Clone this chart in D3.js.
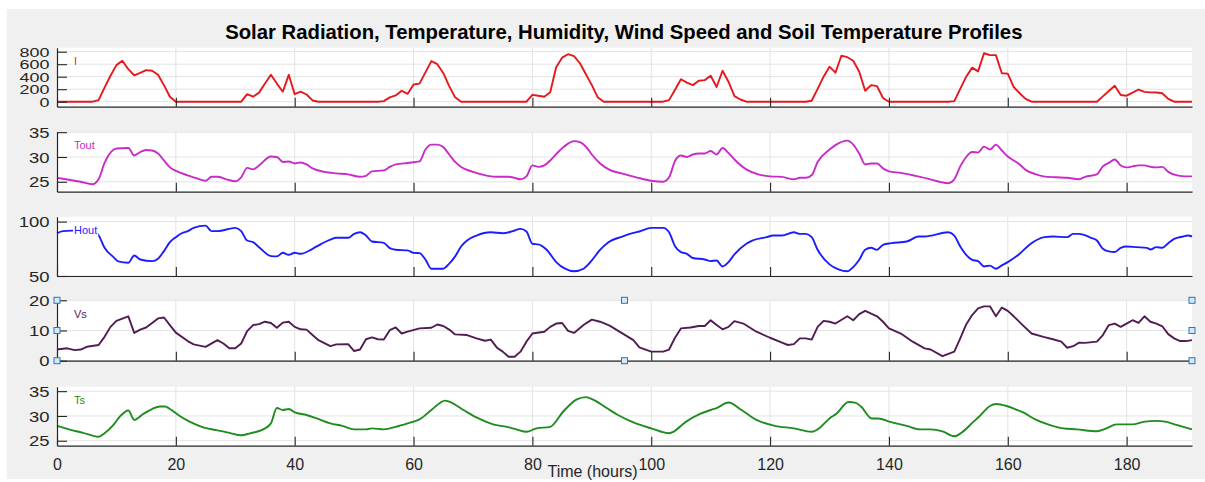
<!DOCTYPE html>
<html>
<head>
<meta charset="utf-8">
<script src="https://cdn.jsdelivr.net/npm/d3@7"></script>
<style>
  html, body { margin: 0; padding: 0; background: #ffffff; }
  svg { display: block; font-family: "Liberation Sans", Arial, Helvetica, sans-serif; }
</style>
</head>
<body>
<svg id="chart" width="1205" height="482"></svg>
<script>
// ---- Text ----
const chartTitle = "Solar Radiation, Temperature, Humidity, Wind Speed and Soil Temperature Profiles";
const xAxisLabel = "Time (hours)";
const seriesNames = ["I", "Tout", "Hout", "Vs", "Ts"];

// ---- Axis ticks ----
const timeTicks = [0, 20, 40, 60, 80, 100, 120, 140, 160, 180];
const solarTicks = [0, 200, 400, 600, 800];
const toutTicks = [25, 30, 35];
const houtTicks = [50, 100];
const windTicks = [0, 10, 20];
const soilTicks = [25, 30, 35];

// ---- Series: [hour, value] ----
const solarRadiation = [
  [0,0],[6,0],[7,25],[8,225],[9,415],[10,585],[11,655],[12,520],[13,420],[14,460],[15,505],[16,495],[17,430],[18,265],[19,80],[20,0],
  [30,0],[31,0],[32,120],[33,80],[34,145],[35,290],[36,430],[37,290],[38,160],[39,430],[40,120],[41,160],[42,115],[43,20],[44,0],
  [54,0],[55,10],[56,70],[57,100],[58,175],[59,125],[60,275],[61,290],[62,470],[63,650],[64,600],[65,460],[66,250],[67,70],[68,0],
  [79,0],[80,110],[81,95],[82,80],[83,150],[84,550],[85,705],[86,760],[87,730],[88,615],[89,440],[90,265],[91,70],[92,0],
  [102,0],[103,25],[104,190],[105,360],[106,305],[107,265],[108,335],[109,345],[110,415],[111,235],[112,495],[113,320],[114,90],[115,35],[116,0],
  [126,0],[127,15],[128,205],[129,400],[130,560],[131,465],[132,735],[133,712],[134,655],[135,480],[136,175],[137,265],[138,250],[139,60],[140,0],
  [150,0],[151,10],[152,205],[153,400],[154,545],[155,485],[156,775],[157,745],[158,745],[159,455],[160,450],[161,235],[162,135],[163,45],[164,0],
  [175,0],[176,85],[177,170],[178,255],[179,107],[180,96],[181,145],[182,195],[183,158],[184,150],[185,148],[186,135],[187,45],[188,0],[191,0]
];

const outdoorTemp = [
  [0,25.8],[2,25.4],[4,25.0],[6,24.5],[7,25.5],[8,28.8],[10,31.7],[12,31.8],[13,30.3],[14,31.0],[15,31.4],[16,31.3],[17,30.7],[18,29.3],[19,27.9],[20,27.2],
  [22,26.3],[24,25.5],[25,25.2],[26,26.0],[27,26.0],[28.5,25.5],[30,25.1],[31,25.9],[32,27.8],[33,27.5],[34,28.3],[36,30.1],[37,30.0],[38,29.0],[39,29.1],
  [40,28.7],[41,28.9],[42,28.5],[43,27.7],[45,27.0],[47,26.7],[49,26.5],[51,26.0],[52,26.2],[53,27.1],[55,27.3],[56,28.0],[57,28.5],[59,28.8],[61,29.1],
  [62,31.5],[63,32.5],[64,32.5],[65,32.0],[66,30.5],[67,29.0],[68,28.0],[70,27.0],[72.5,26.2],[74,26.0],[76,26.0],[77,25.8],[78,25.5],[79,26.1],[80,28.3],
  [81,28.0],[82,28.3],[83,29.3],[84.6,31.3],[86,32.7],[87,33.2],[88,33.0],[89,32.1],[90,30.5],[91.4,28.7],[93,27.4],[95,26.7],[97.5,25.9],[100,25.2],
  [102,25.0],[103,25.9],[104,29.2],[105,30.3],[106,30.0],[107,30.5],[108,30.7],[109,30.7],[110,31.2],[111,30.5],[112,31.8],[113,30.8],[114,29.5],
  [116,27.5],[118,26.5],[120,26.1],[122,26.0],[124,25.5],[125,25.8],[126,25.8],[127,26.3],[128,29.0],[130,31.5],[131,32.4],[133,33.3],[134,32.5],
  [135,30.7],[136,28.5],[137,28.7],[138,28.7],[139,27.7],[140,27.1],[142,26.8],[144.5,26.2],[147,25.5],[148.5,25.0],[150,24.7],[151,25.5],[152,28.1],
  [153,30.0],[154,31.0],[155,30.9],[156,32.1],[157,31.5],[158,32.5],[159,31.3],[160,30.1],[161,29.3],[162,28.5],[163,27.4],[164.5,26.6],[166,26.1],
  [168,25.9],[170,25.8],[172,25.5],[173,26.0],[175,26.5],[176,28.1],[177,28.8],[178,29.5],[179,28.3],[180,27.9],[181,28.1],[182,28.3],[183,28.3],
  [184,28.0],[185,27.9],[186,28.0],[187,27.0],[188.5,26.3],[190,26.1],[191,26.1]
];

const outdoorHumidity = [
  [0,89.3],[1,91.2],[3,91.8],[4,92],[5,92],[6,91.5],[7,87.5],[8,76],[9.5,67.4],[10.3,63.4],[12,62.2],[13,68.9],[14,65.2],[16,63.7],[17,65.9],[18,72.9],
  [19,81.1],[20,85.7],[21,89.3],[22,91.2],[23,94.2],[25,96.3],[26,91.2],[27,91.2],[30,94.2],[31,91.2],[32,82.6],[33,81.1],[34,76.5],[36,68.3],[37,68],
  [38,71.3],[39,69.5],[40,71.3],[41,70.4],[43,75],[44.5,79.6],[46,83.5],[47,85.1],[49,85.1],[50,88.7],[51,90.2],[52,87.2],[53,81.7],[55,80.5],[56,75.6],
  [57,74.1],[59,73.5],[60,71.3],[61,71],[62,65.2],[63,56.7],[65,56.7],[66,61.3],[67,68],[68,77.1],[69,82.6],[70.6,87.2],[73,90.2],[75,89.3],[76.7,91.2],
  [78,93.3],[79,90.9],[80,79.6],[81,79],[82.4,74.1],[84,62.8],[85.5,56.7],[87,54.3],[88.6,56.7],[90,64.3],[91.3,73.5],[92.8,81.1],[95,86],[97,89.6],
  [98,90.9],[100,94.2],[102,94.2],[103,90.2],[104,77.4],[105,72],[106,70.4],[107,66.5],[109,65.2],[110,63.7],[111,64.3],[112,58.8],[113,62.8],[114,69.8],
  [116,79.6],[117,82.6],[119.4,85.7],[120.5,87.2],[122,87.2],[124,90.2],[125,88.7],[126,88.7],[127,85.7],[128,74.1],[130,60.7],[131.5,56.1],[133,54.3],
  [134,58.2],[135,64.9],[136,74.1],[137,75.9],[138,74.1],[139,78.7],[140.4,80.2],[143,81.7],[145,86.3],[146,86.3],[150,90.2],[151,87.2],[152,77.1],
  [153,69.5],[154,64.9],[155,63.7],[156,58.8],[157,59.5],[158,56.7],[159,59.8],[160,62.8],[162,70.4],[163.7,79],[166.2,85.7],[167.6,86.3],[170,85.7],
  [171,88.7],[172,88.7],[174,85.1],[175,82.6],[176,75],[177,72.6],[178,72],[179,75.9],[180,77.1],[181.7,76.5],[183.4,75.9],[184,74.4],[185,76.5],
  [186,75.9],[187,80.2],[188,84.1],[189.5,86.3],[190.3,87.2],[191,86.3]
];

const windSpeed = [
  [0,3.7],[1.7,4.1],[3,3.5],[4,3.7],[5,4.6],[7,5.2],[8,7.9],[9,11.2],[10,13.2],[12,14.7],[13,9.2],[14,10.3],[15,11],[16,12.5],[17,14],[18,14.3],
  [19,11.8],[20,9.3],[22,6.5],[23,5.4],[25,4.6],[27,6.8],[28,5.7],[29,4.1],[30,4.1],[31,5.7],[32,9.8],[33,11.8],[34,12.1],[35,12.9],[36,12.5],
  [37,10.9],[38,12.6],[39,12.9],[40,11.2],[41,10.4],[42,10.3],[43,8.5],[44,6.8],[46,4.8],[47,5.4],[49,5.5],[50,3.2],[51,3.7],[52,7.1],[53,7.7],
  [54,7.1],[55,7],[56,10.1],[57,11],[58,9],[59,9.6],[61,10.7],[63,10.9],[64,12],[65,11.5],[66,10.3],[67,8.7],[69,8.5],[70.6,7.4],[72,6.6],[73,7],
  [74,4.4],[75,3],[76,1.3],[77,1.3],[78,3],[79,6.3],[80,9],[82,9.6],[83,11.2],[84,12.3],[85,12.5],[86,9.9],[87,9.2],[88.6,11.8],[90,13.6],[91.4,12.9],
  [93,11.6],[95,9.2],[97,6.8],[98,4.4],[100,3],[102,3],[103,3.7],[104,7.6],[105,10.7],[106.6,11],[108,11.5],[109,11.5],[110,13.4],[111,11.8],[112,10.4],
  [113,11.2],[114,13.1],[115.5,12.3],[117.7,9.6],[120,7.6],[122,6],[123,5.2],[124,5.5],[125,7.4],[126,7.4],[127,7],[128,11.2],[129,13.2],[130,12.9],
  [131,12.3],[133,14.7],[134,13.4],[135,15.4],[136,16.5],[138,14.7],[139,12.9],[140,10.7],[142,9],[144,6.3],[146,4.1],[147,3.7],[149,1.5],[151,3],
  [152,7.4],[153,12],[154,15.1],[155,17.3],[156,18],[157,18],[158,14.7],[159,17.6],[160,16.5],[161,14.7],[162.5,11.8],[164,9],[166,7.9],[167.6,7.1],
  [169,6.3],[170,4.3],[171,4.8],[172,6],[173,5.9],[175,6.3],[176,8.5],[177,11.8],[178,12.3],[179,11.2],[180,12.3],[181,13.4],[182,12.5],[183,14.7],
  [184,12.9],[185,12.3],[186,11.4],[187,8.8],[188,7.4],[189,6.5],[190,6.5],[191,6.8]
];

const soilTemp = [
  [0,28],[2,27.3],[4.4,26.6],[7,25.8],[8,26.5],[9.5,28.2],[10.6,29.9],[12,31.1],[13,29.2],[14.5,30.4],[16,31.4],[17.3,31.9],[18.2,31.9],[19,31.4],
  [20.4,30.2],[22.4,28.8],[24.6,27.7],[27,27.1],[29,26.6],[31,26.1],[32.5,26.5],[34.7,27.3],[36,28.5],[37,31.6],[38,31.2],[39,31.4],[40,30.7],
  [42,30.2],[43.7,29.5],[46,28.5],[48,28],[50,27.3],[52,27.3],[53,27.5],[55,27.3],[57,27.8],[59,28.5],[61,29.3],[63,31.2],[65.3,33.1],[66,32.9],
  [68.4,31.2],[70.6,29.7],[73.4,28.3],[75.7,27.8],[77.3,27.3],[79,26.8],[80.7,27.5],[83,27.8],[85.2,30.9],[87.4,33.3],[89,33.8],[90.2,33.3],
  [92.5,31.6],[94.4,30.2],[97.2,28.6],[100,27.5],[103,26.5],[103.7,26.8],[105.7,28.7],[108.2,30.4],[110,31.2],[111,31.6],[113,32.7],[115.2,31.2],
  [117.7,29.2],[120.8,28],[124,27.5],[127,26.8],[128,27.3],[130,29.5],[131.2,30.5],[133.2,32.8],[134.3,32.7],[135.3,31.9],[137.1,29.5],[138.2,29.5],
  [140.2,28.8],[143,28],[145.2,27.3],[147,27.3],[149,26.9],[151,25.9],[152.2,26.6],[154.2,28.8],[155.2,29.9],[157,32],[158,32.4],[159.8,32],
  [161.2,31.4],[162.6,30.7],[164.8,29.2],[167,28.2],[169.3,27.5],[171.6,27.3],[175,26.9],[176.6,27.5],[178.3,28.3],[181,28.3],[182.8,28.8],
  [185,29],[186.7,28.8],[188.4,28.2],[191,27.3]
];

// ---- Layout ----
const W = 1205, H = 482;
const plotLeft = 57, plotRight = 1192;
const axisColor = "#262626";
const gridColor = "#e3e3e3";

const panels = [
  { name: seriesNames[0], data: solarRadiation, ticks: solarTicks, domain: [-80, 864], top: 47.7, bottom: 106.7,
    color: "#e5181c", curve: d3.curveLinear, tickFont: 13, tickStretch: 1.38 },
  { name: seriesNames[1], data: outdoorTemp, ticks: toutTicks, domain: [23, 35.1], top: 131.7, bottom: 191.7,
    color: "#c82bc8", curve: d3.curveMonotoneX, tickFont: 15, tickStretch: 1.23 },
  { name: seriesNames[2], data: outdoorHumidity, ticks: houtTicks, domain: [50, 104.5], top: 216.7, bottom: 276,
    color: "#1c1cff", curve: d3.curveMonotoneX, tickFont: 15, tickStretch: 1.23 },
  { name: seriesNames[3], data: windSpeed, ticks: windTicks, domain: [0, 20], top: 300.3, bottom: 360.7,
    color: "#521c52", curve: d3.curveLinear, tickFont: 15, tickStretch: 1.23, selected: true },
  { name: seriesNames[4], data: soilTemp, ticks: soilTicks, domain: [24, 35.9], top: 386.7, bottom: 445.7,
    color: "#1e8c1e", curve: d3.curveMonotoneX, tickFont: 15, tickStretch: 1.23 }
];

const svg = d3.select("#chart");

// Figure background
svg.append("rect").attr("width", W).attr("height", H).attr("fill", "#ffffff");
svg.append("rect").attr("x", 6.7).attr("y", 9).attr("width", W - 6.7).attr("height", 470).attr("fill", "#f0f0f0");

const x = d3.scaleLinear().domain([0, 191]).range([plotLeft, plotRight]);

panels.forEach((p, i) => {
  const isLast = i === panels.length - 1;
  const y = d3.scaleLinear().domain(p.domain).range([p.bottom, p.top]);
  const g = svg.append("g");

  // Plot area
  g.append("rect")
    .attr("x", plotLeft).attr("y", p.top)
    .attr("width", plotRight - plotLeft).attr("height", p.bottom - p.top)
    .attr("fill", "#ffffff");

  // Grid
  g.append("g").selectAll("line").data(p.ticks).join("line")
    .attr("x1", plotLeft).attr("x2", plotRight)
    .attr("y1", d => y(d)).attr("y2", d => y(d))
    .attr("stroke", gridColor).attr("stroke-width", 1);
  g.append("g").selectAll("line").data(timeTicks.filter(t => t > 0)).join("line")
    .attr("x1", d => x(d)).attr("x2", d => x(d))
    .attr("y1", p.top).attr("y2", p.bottom)
    .attr("stroke", gridColor).attr("stroke-width", 1);

  // Series line
  const line = d3.line().x(d => x(d[0])).y(d => y(d[1])).curve(p.curve);
  g.append("path").datum(p.data)
    .attr("d", line)
    .attr("fill", "none")
    .attr("stroke", p.color)
    .attr("stroke-width", 1.9)
    .attr("stroke-linejoin", "round");

  // Series label with white box
  const lab = g.append("g");
  const labText = lab.append("text")
    .attr("x", 74).attr("y", p.top + 17.5)
    .attr("font-size", 11)
    .attr("fill", p.color)
    .text(p.name);
  const bb = labText.node().getBBox();
  lab.insert("rect", "text")
    .attr("x", bb.x - 1).attr("y", bb.y - 0.5)
    .attr("width", bb.width + 2).attr("height", bb.height + 1)
    .attr("fill", "#ffffff");

  // Y axis (ticks point inward)
  const yAxis = d3.axisLeft(y).tickValues(p.ticks).tickSize(-10).tickSizeOuter(0).tickFormat(d3.format("d"));
  const ga = g.append("g").attr("transform", `translate(${plotLeft},0)`).call(yAxis);
  ga.select(".domain").attr("stroke", axisColor).attr("stroke-width", 1.2);
  ga.selectAll(".tick line").attr("stroke", axisColor).attr("stroke-width", 1.1);
  ga.selectAll(".tick text")
    .attr("x", null).attr("dy", "0.34em")
    .attr("font-size", p.tickFont)
    .attr("font-family", "'Liberation Sans', Arial, sans-serif")
    .attr("fill", "#262626")
    .attr("text-anchor", "end")
    .attr("transform", `translate(-7.5,0) scale(${p.tickStretch},1)`);

  // X axis (ticks point inward)
  const xAxis = d3.axisBottom(x).tickValues(timeTicks).tickSize(-9).tickSizeOuter(0)
    .tickFormat(isLast ? d3.format("d") : () => "");
  const gx = g.append("g").attr("transform", `translate(0,${p.bottom})`).call(xAxis);
  gx.select(".domain").attr("stroke", axisColor).attr("stroke-width", 1.2);
  gx.selectAll(".tick line").attr("stroke", axisColor).attr("stroke-width", 1.1);
  gx.selectAll(".tick text")
    .attr("y", 24.5).attr("dy", 0)
    .attr("font-size", 16)
    .attr("font-family", "'Liberation Sans', Arial, sans-serif")
    .attr("fill", "#262626");

  // Selection handles on the active axes
  if (p.selected) {
    const xs = [plotLeft, (plotLeft + plotRight) / 2, plotRight];
    const ys = [p.top, (p.top + p.bottom) / 2, p.bottom];
    const handles = [];
    xs.forEach((hx, xi) => ys.forEach((hy, yi) => {
      if (!(xi === 1 && yi === 1) && !(xi === 1 && yi === 1)) {
        if (xi === 1 && yi === 1) return;
        if (xi === 1 && yi !== 1) handles.push([hx, hy]);
        else if (xi !== 1) handles.push([hx, hy]);
      }
    }));
    g.append("g").selectAll("rect").data(handles).join("rect")
      .attr("x", d => d[0] - 3).attr("y", d => d[1] - 3)
      .attr("width", 6).attr("height", 6)
      .attr("fill", "#d4e8f7").attr("stroke", "#2a78b8").attr("stroke-width", 1);
  }
});

// Title
const titleG = svg.append("g").attr("transform", "translate(623.8,39.3)");
const titleText = titleG.append("text")
  .attr("text-anchor", "middle")
  .attr("font-size", 20)
  .attr("font-weight", "bold")
  .attr("fill", "#000000")
  .text(chartTitle);
const tw = titleText.node().getComputedTextLength();
titleText.attr("transform", `scale(${798 / tw},1)`);

// X axis label
svg.append("text")
  .attr("x", 592.5).attr("y", 476.5)
  .attr("text-anchor", "middle")
  .attr("font-size", 16)
  .attr("fill", "#262626")
  .text(xAxisLabel);
</script>
</body>
</html>
